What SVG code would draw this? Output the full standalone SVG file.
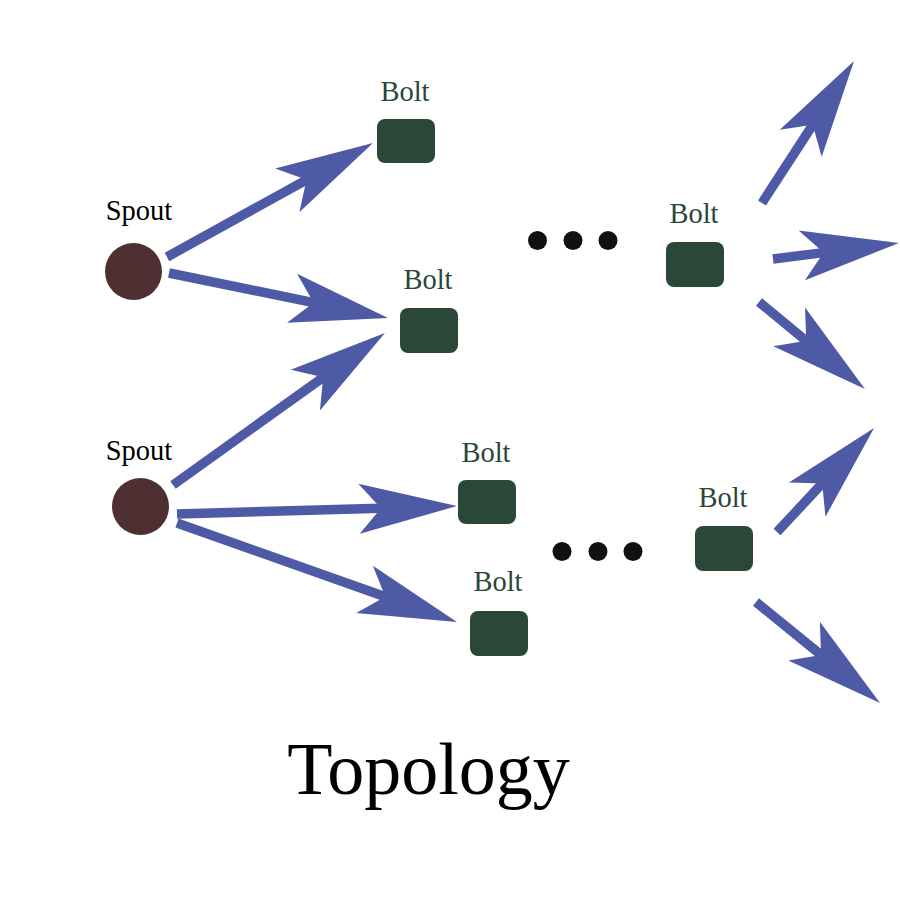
<svg xmlns="http://www.w3.org/2000/svg" width="900" height="900" viewBox="0 0 900 900">
<style>
.edge{stroke:#4e5aa5;stroke-width:9.5;fill:none;stroke-linecap:butt;marker-end:url(#head)}
.spout{fill:#4f3032}
.bolt{fill:#2a4737}
.dot{fill:#111111}
.slabel{font-family:"Liberation Serif","Times New Roman",serif;font-size:28.5px;fill:#000000;text-anchor:middle}
.blabel{font-family:"Liberation Serif","Times New Roman",serif;font-size:28.5px;fill:#2a4737;text-anchor:middle}
.title{font-family:"Liberation Serif","Times New Roman",serif;font-size:74px;fill:#000000;text-anchor:middle}
</style>
<defs>
<marker id="head" markerUnits="userSpaceOnUse" orient="auto" viewBox="-23 -26 100 52" markerWidth="100" markerHeight="52" refX="0" refY="0">
<path d="M76,0 L-22,-25 L0,0 L-22,25 Z" fill="#4e5aa5"/>
</marker>
</defs>
<rect width="900" height="900" fill="#ffffff"/>
<g id="connectors">
<line class="edge" x1="167" y1="257" x2="306.5" y2="179.8"/>
<line class="edge" x1="169" y1="273" x2="313.6" y2="302.7"/>
<line class="edge" x1="173" y1="485" x2="323.2" y2="377.3"/>
<line class="edge" x1="177" y1="514" x2="381" y2="508.2"/>
<line class="edge" x1="177" y1="523" x2="385.3" y2="596.7"/>
<line class="edge" x1="762" y1="203" x2="812.7" y2="124.8"/>
<line class="edge" x1="773" y1="259" x2="823.6" y2="252.6"/>
<line class="edge" x1="759" y1="302" x2="806.2" y2="340.8"/>
<line class="edge" x1="777" y1="532" x2="822.2" y2="483.6"/>
<line class="edge" x1="756" y1="602" x2="821.1" y2="655"/>
</g>
<g id="spout1"><circle class="spout" cx="133.5" cy="271.5" r="28.5"/><text class="slabel" x="139" y="220">Spout</text></g>
<g id="spout2"><circle class="spout" cx="140.5" cy="506.5" r="28.5"/><text class="slabel" x="139" y="460">Spout</text></g>
<g id="bolt1"><rect class="bolt" x="377" y="119" width="58" height="44" rx="8"/><text class="blabel" x="405" y="101">Bolt</text></g>
<g id="bolt2"><rect class="bolt" x="400" y="308" width="58" height="45" rx="8"/><text class="blabel" x="428" y="289">Bolt</text></g>
<g id="bolt3"><rect class="bolt" x="666" y="242" width="58" height="45" rx="8"/><text class="blabel" x="694" y="223">Bolt</text></g>
<g id="bolt4"><rect class="bolt" x="458" y="480" width="58" height="44" rx="8"/><text class="blabel" x="486" y="462">Bolt</text></g>
<g id="bolt5"><rect class="bolt" x="470" y="611" width="58" height="45" rx="8"/><text class="blabel" x="498" y="591">Bolt</text></g>
<g id="bolt6"><rect class="bolt" x="695" y="526" width="58" height="45" rx="8"/><text class="blabel" x="723" y="507">Bolt</text></g>
<g id="ellipsis1"><circle class="dot" cx="537.5" cy="240.5" r="9.5"/><circle class="dot" cx="573" cy="240.5" r="9.5"/><circle class="dot" cx="608" cy="240.5" r="9.5"/></g>
<g id="ellipsis2"><circle class="dot" cx="562" cy="551.5" r="9.5"/><circle class="dot" cx="598" cy="551.5" r="9.5"/><circle class="dot" cx="633" cy="551.5" r="9.5"/></g>
<text class="title" x="428.5" y="794">Topology</text>
</svg>
